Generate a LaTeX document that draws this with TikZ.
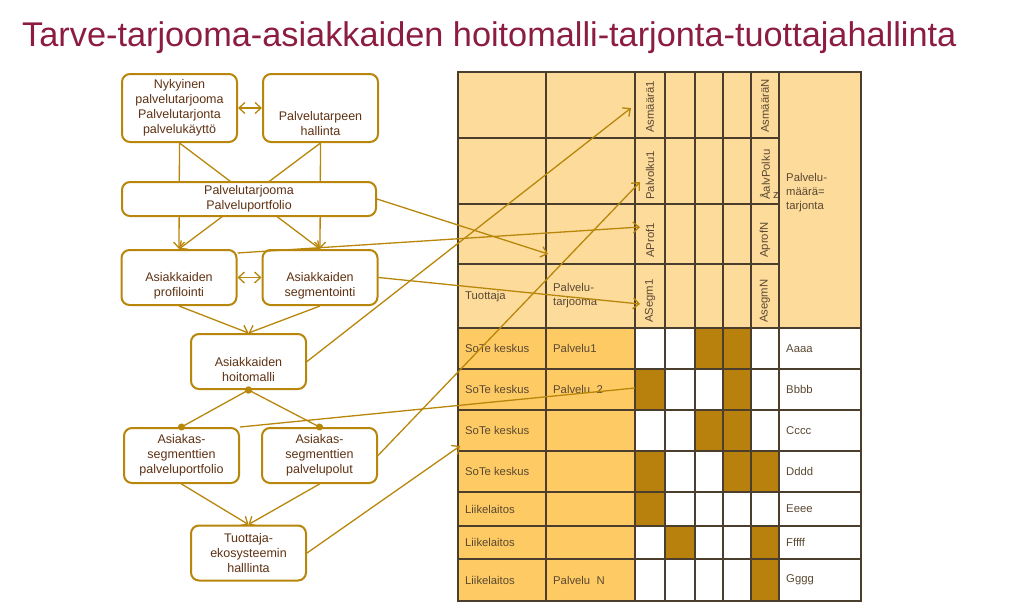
\documentclass[tikz,border=0pt]{standalone}
\usepackage{fontspec}
\setmainfont{Liberation Sans}
\usetikzlibrary{arrows.meta,positioning,backgrounds}

\definecolor{gold}{RGB}{184,134,11}
\definecolor{cellbrown}{RGB}{184,128,12}
\definecolor{headfill}{RGB}{253,219,155}
\definecolor{rowfill}{RGB}{254,202,100}
\definecolor{titlered}{RGB}{140,28,64}
\definecolor{boxtext}{RGB}{95,50,20}
\definecolor{gridline}{RGB}{75,62,45}
\definecolor{tabtext}{RGB}{90,72,50}

\begin{document}
\begin{tikzpicture}[x=1pt, y=-1pt,
    node distance=24pt,
    every node/.style={font=\fontsize{12.5}{15}\selectfont, text=boxtext},
    box/.style={draw=gold, line width=2pt, rounded corners=8pt, fill=white, align=center, minimum width=115pt, minimum height=55pt, inner sep=2pt},
    flow/.style={draw=gold, line width=1.3pt, -{Straight Barb[length=6pt,width=11pt]}},
    both/.style={draw=gold, line width=1.3pt, {Straight Barb[length=6pt,width=11pt]}-{Straight Barb[length=6pt,width=11pt]}},
    dots/.style={draw=gold, line width=1.3pt, {Circle[length=7pt]}-{Circle[length=7pt]}, shorten <=-3.5pt, shorten >=-3.5pt},
    grid/.style={draw=gridline, line width=1.1pt},
    tab/.style={font=\fontsize{11.3}{14}\selectfont, text=tabtext, inner sep=0pt, anchor=west, align=left},
    hdr/.style={tab, rotate=90}
]
\useasboundingbox (0,0) rectangle (1024,608);

% title
\node[font=\fontsize{34.3}{40}\selectfont, text=titlered, anchor=base west, inner sep=0pt] (title) at (22,46) {Tarve-tarjooma-asiakkaiden hoitomalli-tarjonta-tuottajahallinta};

% matrix table
\fill[headfill] (458,72) rectangle (861,328);
\fill[rowfill] (458,328) rectangle (635,601);
\fill[white] (635,328) rectangle (861,601);
\foreach \r/\c in {1/3,1/4,2/1,2/4,3/3,3/4,4/1,4/4,4/5,5/1,6/2,6/5,7/5} {
  \pgfmathsetmacro{\xa}{{635,665,695,723,751,779}[\c-1]}
  \pgfmathsetmacro{\xb}{{635,665,695,723,751,779}[\c]}
  \pgfmathsetmacro{\ya}{{328,369,410,451,492,526,559,601}[\r-1]}
  \pgfmathsetmacro{\yb}{{328,369,410,451,492,526,559,601}[\r]}
  \fill[cellbrown] (\xa,\ya) rectangle (\xb,\yb);
}
\draw[grid] (458,72) rectangle (861,601);
\foreach \x in {546,635,665,695,723,751,779}
  \draw[grid] (\x,72) -- (\x,601);
\foreach \y in {204,264}
  \draw[grid] (458,\y) -- (779,\y);
\foreach \y in {328,369,410,451,492,526,559}
  \draw[grid] (458,\y) -- (861,\y);
\draw[draw=gridline, line width=2.5pt] (458,138) -- (779,138) -- (779,328);

% header labels
\node[hdr] (asm1) at (650,133) {Asmäärä1};
\node[hdr] (asmN) at (765,133) {AsmääräN};
\node[hdr] (pol1) at (650,200) {Palvolku1};
\node[hdr] (polN) at (765,200) {ÅalvPolku};
\node[hdr] (prof1) at (650,258) {AProf1};
\node[hdr] (profN) at (765,258) {AprofN};
\node[hdr] (segm1) at (650,323) {ASegm1};
\node[hdr] (segmN) at (765,323) {AsegmN};
\node[tab] (tuot) at (465,297) {Tuottaja};
\node[tab] (tarj) at (553,296) {Palvelu-\\tarjooma};
\node[tab] (maara) at (786,193) {Palvelu-\\määrä=\\tarjonta};
\node[tab] (zz) at (773,196) {z};

% rows
\foreach \y/\a/\b/\c [count=\i] in {348.5/SoTe keskus/Palvelu1/Aaaa, 389.5/SoTe keskus/Palvelu\ \ 2/Bbbb, 430.5/SoTe keskus//Cccc, 471.5/SoTe keskus//Dddd, 509/Liikelaitos//Eeee, 542.5/Liikelaitos//Fffff, 580/Liikelaitos/Palvelu\ \ N/Gggg} {
  \node[tab] (tuot\i) at (465,\y) {\a};
  \node[tab] (palv\i) at (553,\y) {\b};
  \node[tab] (sum\i) at (786,\y) {\c};
}

% flowchart
\node[box, minimum height=68pt] (now) at (179.5,108) {Nykyinen\\palvelutarjooma\\Palvelutarjonta\\palvelukäyttö};
\node[box, minimum height=68pt, right=of now] (need) {\strut\\\strut\\Palvelutarpeen\\hallinta};
\node[box, minimum width=254pt, minimum height=34pt] (port) at (249,199) {Palvelutarjooma\\Palveluportfolio};
\node[box] (prof) at (179,277.5) {\strut\\Asiakkaiden\\profilointi};
\node[box, right=of prof] (segm) {\strut\\Asiakkaiden\\segmentointi};
\node[box] (hoito) at (248.5,361.5) {\strut\\Asiakkaiden\\hoitomalli};
\node[box] (aport) at (181.5,455.5) {Asiakas-\\segmenttien\\palveluportfolio};
\node[box, right=21pt of aport] (apolut) {Asiakas-\\segmenttien\\palvelupolut};
\node[box] (eko) at (248.5,553) {Tuottaja-\\ekosysteemin\\halllinta};

\begin{scope}[on background layer]
\draw[flow] (now.south) -- (prof.north);
\draw[flow] (now.south) -- (segm.north);
\draw[flow] (need.south) -- (prof.north);
\draw[flow] (need.south) -- (segm.north);
\draw[flow] (prof.south) -- (hoito.north);
\draw[flow] (segm.south) -- (hoito.north);
\draw[flow] (aport.south) -- (eko.north);
\draw[flow] (apolut.south) -- (eko.north);
\end{scope}
\draw[dots] (hoito.south) -- (aport.north);
\draw[dots] (hoito.south) -- (apolut.north);
\draw[both] (now) -- (need);
\draw[both] (prof) -- (segm);

% links into the table
\coordinate (tAsm) at (631,108);
\coordinate (tPol) at (640,182);
\coordinate (tProf) at (640,227);
\coordinate (tSegm) at (640,304);
\coordinate (tTarj) at (548,254);
\coordinate (tP2) at (635,388);
\coordinate (tSote) at (460,446);
\draw[flow] (port.east) -- (tTarj);
\draw[flow] ([yshift=-4pt]prof.north east) -- (tProf);
\draw[flow] (segm.east) -- (tSegm);
\draw[flow] (hoito.east) -- (tAsm);
\draw[flow] (apolut.east) -- (tPol);
\draw[draw=gold, line width=1.3pt] (aport.north east) -- (tP2);
\draw[flow] (eko.east) -- (tSote);
\end{tikzpicture}
\end{document}
